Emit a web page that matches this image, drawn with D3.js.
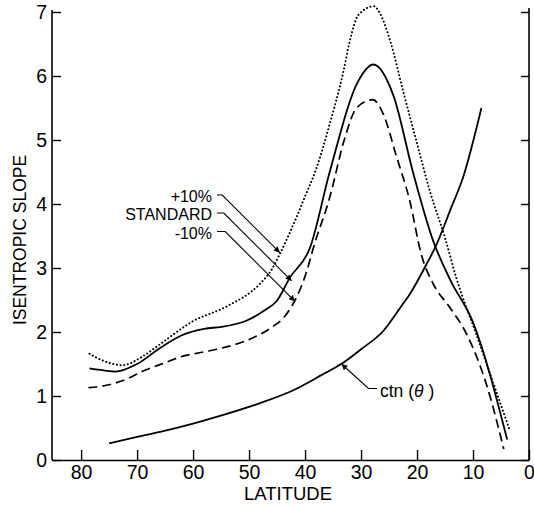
<!DOCTYPE html>
<html>
<head>
<meta charset="utf-8">
<script src="https://cdn.jsdelivr.net/npm/d3@7"></script>
<style>
  html, body { margin: 0; padding: 0; background: #fff; }
  svg { display: block; font-family: "Liberation Sans", Arial, Helvetica, sans-serif; }
</style>
</head>
<body>
<svg id="chart" width="534" height="507"></svg>
<script>
// ---------- data (latitude in degrees, isentropic slope) ----------
const xTicks = [80, 70, 60, 50, 40, 30, 20, 10, 0];
const yTicks = [0, 1, 2, 3, 4, 5, 6, 7];

const standardLat = [78.5, 76, 73.9, 70, 65.9, 62, 58, 55, 50.4, 47, 45.1, 42.7, 39.1, 35.6, 30.5, 27.8, 24.2, 20.7, 17.1, 14.1, 10.0, 3.9];
const standardVal = [1.43, 1.40, 1.38, 1.50, 1.75, 1.95, 2.05, 2.08, 2.18, 2.35, 2.48, 2.85, 3.32, 4.50, 5.92, 6.18, 5.69, 4.49, 3.42, 2.82, 2.15, 0.32];

const plusLat = [78.5, 76, 72.7, 69, 65.9, 60.0, 54.0, 48.1, 46, 44.5, 43, 41.5, 40, 38, 35.6, 33.2, 32.0, 30.5, 27.7, 26.9, 24.8, 22.5, 20.1, 17.7, 15.0, 13.0, 9.4, 3.5];
const plusVal = [1.66, 1.55, 1.48, 1.62, 1.81, 2.17, 2.40, 2.75, 2.97, 3.22, 3.50, 3.80, 4.12, 4.55, 5.25, 6.05, 6.55, 6.95, 7.09, 7.02, 6.55, 5.77, 4.98, 4.20, 3.47, 2.85, 1.96, 0.48];

const minusLat = [78.7, 74.8, 72, 68.9, 65, 62.3, 58, 55.8, 49.3, 46, 43.3, 39.7, 38.5, 35.6, 33.0, 30.8, 27.9, 26.0, 23.7, 21.3, 19.2, 17.1, 14.1, 11.1, 7.6, 4.5];
const minusVal = [1.13, 1.18, 1.26, 1.39, 1.52, 1.61, 1.69, 1.73, 1.91, 2.07, 2.28, 2.95, 3.32, 4.10, 5.00, 5.50, 5.63, 5.40, 4.75, 4.05, 3.20, 2.75, 2.38, 1.96, 1.18, 0.17];

const ctnLat = [75.0, 70, 65.9, 60, 54.0, 48, 42.1, 37, 33.2, 30, 26.0, 23, 21.3, 18.3, 16.5, 14, 11.8, 8.5];
const ctnVal = [0.26, 0.36, 0.44, 0.57, 0.72, 0.89, 1.09, 1.33, 1.52, 1.73, 2.02, 2.38, 2.59, 3.06, 3.37, 3.92, 4.41, 5.50];

const seriesNames = ["+10%", "STANDARD", "-10%"];
// points (lat, value) where each label's arrow touches its curve
const arrowLat = [44.5, 42.4, 41.8];
const arrowVal = [3.24, 2.80, 2.48];
const ctnLabel = "ctn";
const ctnArrowLat = 33.5, ctnArrowVal = 1.50;

const xTitle = "LATITUDE";
const yTitle = "ISENTROPIC SLOPE";

// ---------- chart ----------
const svg = d3.select("#chart");
const x = d3.scaleLinear().domain([85.2, 0]).range([52, 529]);
const y = d3.scaleLinear().domain([0, 7]).range([460, 12]);

const zip = (a, b) => a.map((v, i) => [v, b[i]]);
const line = d3.line().x(d => x(d[0])).y(d => y(d[1])).curve(d3.curveMonotoneX);

// axes
const fmt = d3.format("d");
const gL = svg.append("g").attr("transform", `translate(${x.range()[0]},0)`)
  .call(d3.axisLeft(y).tickValues(yTicks).tickFormat(fmt).tickSizeInner(-9).tickSizeOuter(0).tickPadding(5));
const gB = svg.append("g").attr("transform", `translate(0,${y.range()[0]})`)
  .call(d3.axisBottom(x).tickValues(xTicks).tickFormat(fmt).tickSizeInner(-10).tickSizeOuter(0).tickPadding(5));
const gR = svg.append("g").attr("transform", `translate(${x.range()[1]},0)`)
  .call(d3.axisRight(y).tickValues(yTicks).tickSizeInner(-8).tickSizeOuter(0).tickFormat(""));
[gL, gB, gR].forEach(g => {
  g.selectAll("path.domain").attr("stroke", "#000").attr("stroke-width", 1.6);
  g.selectAll(".tick line").attr("stroke", "#000").attr("stroke-width", 1.4);
  g.selectAll(".tick text").attr("fill", "#000").attr("font-size", 19.5);
});
gR.select("path.domain").attr("d", `M0,${y(7) - 4}V${y(0)}`);
gL.select("path.domain").attr("d", `M0,${y(7) - 2}V${y(0)}`);

// curves
svg.append("path").datum(zip(plusLat, plusVal)).attr("d", line)
  .attr("fill", "none").attr("stroke", "#000").attr("stroke-width", 2)
  .attr("stroke-dasharray", "0.1 3.6").attr("stroke-linecap", "round");
svg.append("path").datum(zip(standardLat, standardVal)).attr("d", line)
  .attr("fill", "none").attr("stroke", "#000").attr("stroke-width", 1.8);
svg.append("path").datum(zip(minusLat, minusVal)).attr("d", line)
  .attr("fill", "none").attr("stroke", "#000").attr("stroke-width", 1.7)
  .attr("stroke-dasharray", "9 5");
svg.append("path").datum(zip(ctnLat, ctnVal)).attr("d", line)
  .attr("fill", "none").attr("stroke", "#000").attr("stroke-width", 1.8);

// arrow marker
svg.append("defs").append("marker")
  .attr("id", "arr").attr("viewBox", "0 0 10 10").attr("refX", 10).attr("refY", 5)
  .attr("markerWidth", 8).attr("markerHeight", 6).attr("markerUnits", "userSpaceOnUse")
  .attr("orient", "auto")
  .append("path").attr("d", "M0,0L10,5L0,10Z").attr("fill", "#000");

// series labels with leaders
const labelBase = [201.5, 220, 239];
const leaderY = [195, 213, 231.5];
seriesNames.forEach((name, i) => {
  svg.append("text").attr("x", 212).attr("y", labelBase[i])
    .attr("text-anchor", "end").attr("font-size", 16).attr("fill", "#000").text(name);
  const tx = x(arrowLat[i]), ty = y(arrowVal[i]);
  const kx = tx - (ty - leaderY[i]);
  svg.append("path").attr("d", `M217,${leaderY[i]}H${kx}L${tx},${ty}`)
    .attr("fill", "none").attr("stroke", "#000").attr("stroke-width", 1.1)
    .attr("marker-end", "url(#arr)");
});

// ctn label
{
  const tx = x(ctnArrowLat), ty = y(ctnArrowVal);
  svg.append("path").attr("d", `M377,388.5H368.5L${tx},${ty}`)
    .attr("fill", "none").attr("stroke", "#000").attr("stroke-width", 1.1)
    .attr("marker-end", "url(#arr)");
  const t = svg.append("text").attr("x", 380).attr("y", 397).attr("font-size", 17.5).attr("fill", "#000");
  t.append("tspan").text(ctnLabel + " (");
  t.append("tspan").attr("font-style", "italic").text("θ");
  t.append("tspan").text(" )");
}

// axis titles
svg.append("text").attr("x", 288).attr("y", 500).attr("text-anchor", "middle")
  .attr("font-size", 18.5).attr("fill", "#000").text(xTitle);
svg.append("text").attr("transform", "translate(25.5,240) rotate(-90)").attr("text-anchor", "middle")
  .attr("font-size", 17.5).attr("fill", "#000").text(yTitle);
</script>
</body>
</html>
